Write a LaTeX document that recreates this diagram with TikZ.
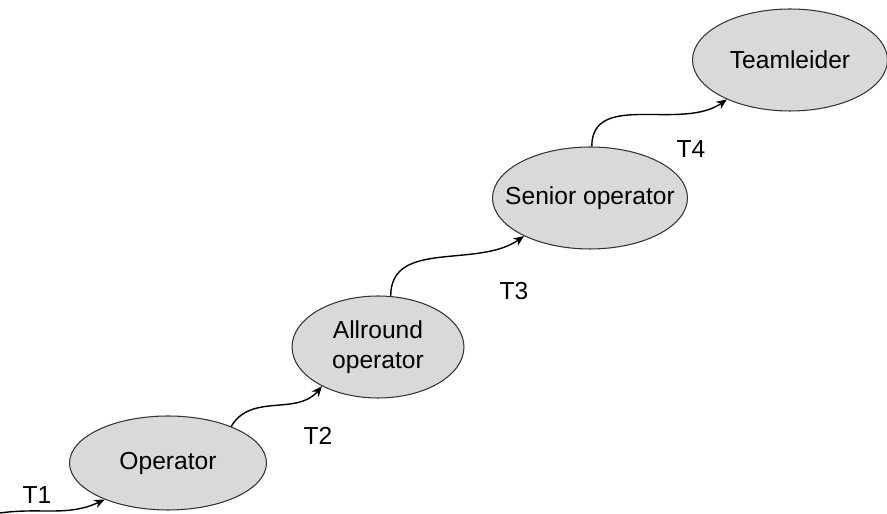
\documentclass[tikz,border=0pt]{standalone}
\usepackage{fontspec}
\setmainfont{Liberation Sans}
\definecolor{BubbleGray}{HTML}{D9D9D9}
\definecolor{EdgeGray}{HTML}{333333}
\usetikzlibrary{positioning, arrows.meta, shapes.geometric}

\begin{document}
\begin{tikzpicture}[x=0.02cm, y=0.02cm,
    rolebubble/.style={ellipse, draw=EdgeGray, line width=0.6pt, fill=BubbleGray,
      inner xsep=-0.9cm, inner ysep=-0.45cm, align=center, font=\fontsize{14}{17}\selectfont},
    stepline/.style={-{Stealth[length=6pt,width=5pt]}, line width=0.8pt, black},
    steplabel/.style={font=\fontsize{14}{17}\selectfont, inner sep=0pt}]
  \useasboundingbox (0,0) rectangle (887,514);

  % roles
  \node[rolebubble, minimum width=3.94cm, minimum height=1.88cm] (operator) at (168,51) {Operator};
  \node[rolebubble, minimum width=3.44cm, minimum height=2.04cm] (allround) at (378,167) {Allround\\operator};
  \node[rolebubble, minimum width=3.9cm, minimum height=2.04cm] (senior) at (590,316) {Senior operator};
  \node[rolebubble, minimum width=3.9cm, minimum height=2.04cm] (leader) at (790,454) {Teamleider};

  % transitions
  \coordinate (entry) at (0,1);
  \draw[stepline] (entry) to[out=8, in=205] (operator.210);
  \draw[stepline] (operator.30) to[out=60, in=230] (allround.215);
  \draw[stepline] (allround.76) to[out=90, in=215] (senior.210);
  \draw[stepline] (senior.88) to[out=90, in=215] (leader.212);

  \node[steplabel] (t1) at (37,19) {T1};
  \node[steplabel] (t2) at (318,78) {T2};
  \node[steplabel] (t3) at (514,223) {T3};
  \node[steplabel] (t4) at (691,365) {T4};
\end{tikzpicture}
\end{document}
